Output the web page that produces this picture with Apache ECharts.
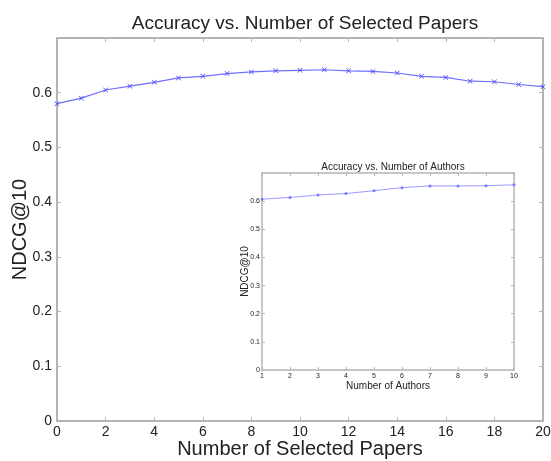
<!DOCTYPE html>
<html>
<head>
<meta charset="utf-8">
<script src="https://cdn.jsdelivr.net/npm/echarts@6/dist/echarts.min.js"></script>
<style>html,body{margin:0;padding:0;background:#fff;}#c{width:551px;height:461px;}</style>
</head>
<body>
<div id="c"></div>
<script>
const papers = [0,1,2,3,4,5,6,7,8,9,10,11,12,13,14,15,16,17,18,19,20];
const ndcgPapers = [0.580,0.590,0.605,0.612,0.619,0.627,0.630,0.635,0.638,0.640,0.641,0.642,0.640,0.639,0.636,0.630,0.628,0.621,0.620,0.615,0.611];
const authors = [1,2,3,4,5,6,7,8,9,10];
const ndcgAuthors = [0.607,0.613,0.622,0.627,0.637,0.648,0.654,0.654,0.655,0.658];
const mainTitle = 'Accuracy vs. Number of Selected Papers';
const insetTitle = 'Accuracy vs. Number of Authors';
const xNameMain = 'Number of Selected Papers';
const xNameInset = 'Number of Authors';
const yName = 'NDCG@10';

const FONT = '"Liberation Sans", Arial, sans-serif';
const AX = '#b4b4b4';
const TXT = '#222';
const xMark = 'path://M0,1L1,0L5,4L9,0L10,1L6,5L10,9L9,10L5,6L1,10L0,9L4,5Z';

function yFmt(v){ if (Math.abs(v-0.7)<1e-9) return ''; if (v===0) return '0'; return v.toFixed(1); }

function axLine(w){ return {onZero:false, lineStyle:{color:AX, width:w}}; }

const chart = echarts.init(document.getElementById('c'), null, {renderer:'canvas'});
chart.setOption({
  animation:false,
  backgroundColor:'#fff',
  textStyle:{fontFamily:FONT},
  title:[
    {text:mainTitle, left:300, top:9, textAlign:'center',
     textStyle:{fontFamily:FONT, fontSize:19, fontWeight:'normal', color:TXT}},
    {text:insetTitle, left:388, top:157, textAlign:'center',
     textStyle:{fontFamily:FONT, fontSize:10, fontWeight:'normal', color:TXT}}
  ],
  grid:[
    {left:57, right:8, top:38, bottom:40, show:false, containLabel:false, outerBoundsMode:'none'},
    {left:262, right:37, top:173, bottom:91, show:true, backgroundColor:'#fff', borderWidth:0, z:5, containLabel:false, outerBoundsMode:'none'}
  ],
  xAxis:[
    {gridIndex:0, type:'value', min:0, max:20, interval:2, position:'bottom',
     name:xNameMain, nameLocation:'middle', nameGap:18, nameMoveOverlap:false,
     nameTextStyle:{fontFamily:FONT, fontSize:20, color:TXT},
     axisLine:axLine(2),
     axisTick:{inside:true, length:4, lineStyle:{color:AX}},
     axisLabel:{fontFamily:FONT, fontSize:14, color:TXT, margin:4},
     splitLine:{show:false}},
    {gridIndex:0, type:'value', min:0, max:20, interval:2, position:'top',
     axisLine:axLine(2),
     axisTick:{inside:true, length:4, lineStyle:{color:AX}},
     axisLabel:{show:false}, splitLine:{show:false}},
    {gridIndex:1, type:'value', min:1, max:10, interval:1, position:'bottom',
     name:xNameInset, nameLocation:'middle', nameGap:11, nameMoveOverlap:false,
     nameTextStyle:{fontFamily:FONT, fontSize:10, color:TXT},
     axisLine:axLine(1.5),
     axisTick:{inside:true, length:3, lineStyle:{color:AX}},
     axisLabel:{fontFamily:FONT, fontSize:7, color:TXT, margin:3},
     splitLine:{show:false}, z:6},
    {gridIndex:1, type:'value', min:1, max:10, interval:1, position:'top',
     axisLine:axLine(1.5),
     axisTick:{inside:true, length:3, lineStyle:{color:AX}},
     axisLabel:{show:false}, splitLine:{show:false}, z:6}
  ],
  yAxis:[
    {gridIndex:0, type:'value', min:0, max:0.7, interval:0.1, position:'left',
     name:yName, nameLocation:'middle', nameGap:27, nameRotate:90, nameMoveOverlap:false,
     nameTextStyle:{fontFamily:FONT, fontSize:20, color:TXT},
     axisLine:axLine(2),
     axisTick:{inside:true, length:4, lineStyle:{color:AX}},
     axisLabel:{fontFamily:FONT, fontSize:14, color:TXT, margin:5, formatter:yFmt},
     splitLine:{show:false}},
    {gridIndex:0, type:'value', min:0, max:0.7, interval:0.1, position:'right',
     axisLine:axLine(2),
     axisTick:{inside:true, length:4, lineStyle:{color:AX}},
     axisLabel:{show:false}, splitLine:{show:false}},
    {gridIndex:1, type:'value', min:0, max:0.7, interval:0.1, position:'left',
     name:yName, nameLocation:'middle', nameGap:12, nameRotate:90, nameMoveOverlap:false,
     nameTextStyle:{fontFamily:FONT, fontSize:10, color:TXT},
     axisLine:axLine(1.5),
     axisTick:{inside:true, length:3, lineStyle:{color:AX}},
     axisLabel:{fontFamily:FONT, fontSize:7, color:TXT, margin:2, formatter:yFmt},
     splitLine:{show:false}, z:6},
    {gridIndex:1, type:'value', min:0, max:0.7, interval:0.1, position:'right',
     axisLine:axLine(1.5),
     axisTick:{inside:true, length:3, lineStyle:{color:AX}},
     axisLabel:{show:false}, splitLine:{show:false}, z:6}
  ],
  series:[
    {type:'line', xAxisIndex:0, yAxisIndex:0,
     data:papers.map((x,i)=>[x, ndcgPapers[i]]),
     symbol:xMark, symbolSize:5, showAllSymbol:true,
     lineStyle:{color:'#6f6fff', width:1.2},
     itemStyle:{color:'#4a4aff'}, clip:false, z:3},
    {type:'line', xAxisIndex:2, yAxisIndex:2,
     data:authors.map((x,i)=>[x, ndcgAuthors[i]]),
     symbol:'circle', symbolSize:3, showAllSymbol:true,
     lineStyle:{color:'#9a9aff', width:1},
     itemStyle:{color:'#7a7aff'}, clip:false, z:7}
  ]
});
</script>
</body>
</html>
